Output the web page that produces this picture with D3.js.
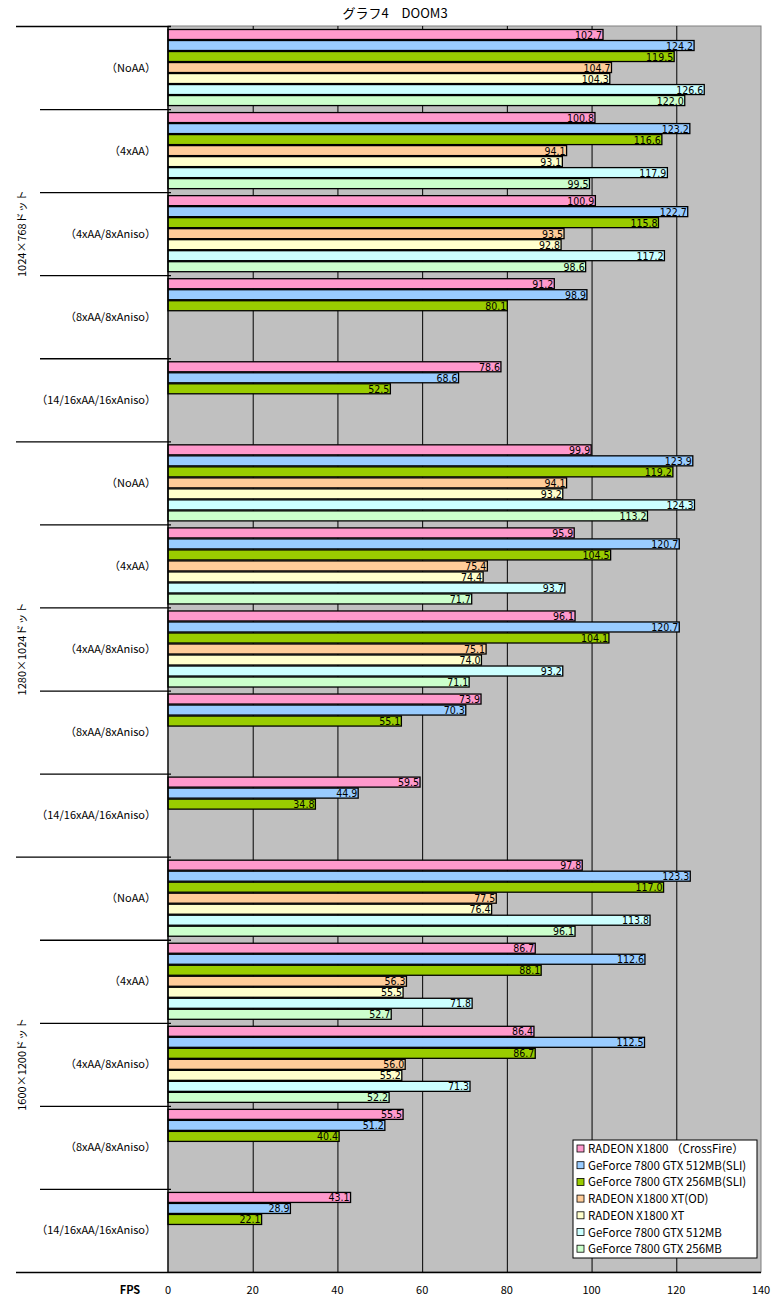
<!DOCTYPE html>
<html>
<head>
<meta charset="utf-8">
<script src="https://cdn.jsdelivr.net/npm/d3@7"></script>
<style>
  body { margin: 0; background: #fff; }
  svg text { font-family: "Noto Sans CJK JP", "DejaVu Sans", sans-serif; }
</style>
</head>
<body>
<svg id="chart" width="775" height="1304"></svg>
<script>
// series in legend order
var seriesNames = [
  'RADEON X1800 (CrossFire)',
  'GeForce 7800 GTX 512MB(SLI)',
  'GeForce 7800 GTX 256MB(SLI)',
  'RADEON X1800 XT(OD)',
  'RADEON X1800 XT',
  'GeForce 7800 GTX 512MB',
  'GeForce 7800 GTX 256MB'
]
var seriesColors = ['#ff99cc', '#99ccff', '#99cc00', '#ffcc99', '#ffffcc', '#ccffff', '#ccffcc']

var resolutions = ['1024×768ドット', '1280×1024ドット', '1600×1200ドット']
var settings = ['（NoAA）', '（4xAA）', '（4xAA/8xAniso）', '（8xAA/8xAniso）', '（14/16xAA/16xAniso）']

// one row per setting, values per series (null = no bar)
var res1024 = [
  [102.7, 124.2, 119.5, 104.7, 104.3, 126.6, 122.0],
  [100.8, 123.2, 116.6, 94.1, 93.1, 117.9, 99.5],
  [100.9, 122.7, 115.8, 93.5, 92.8, 117.2, 98.6],
  [91.2, 98.9, 80.1, null, null, null, null],
  [78.6, 68.6, 52.5, null, null, null, null]
]
var res1280 = [
  [99.9, 123.9, 119.2, 94.1, 93.2, 124.3, 113.2],
  [95.9, 120.7, 104.5, 75.4, 74.4, 93.7, 71.7],
  [96.1, 120.7, 104.1, 75.1, 74.0, 93.2, 71.1],
  [73.9, 70.3, 55.1, null, null, null, null],
  [59.5, 44.9, 34.8, null, null, null, null]
]
var res1600 = [
  [97.8, 123.3, 117.0, 77.5, 76.4, 113.8, 96.1],
  [86.7, 112.6, 88.1, 56.3, 55.5, 71.8, 52.7],
  [86.4, 112.5, 86.7, 56.0, 55.2, 71.3, 52.2],
  [55.5, 51.2, 40.4, null, null, null, null],
  [43.1, 28.9, 22.1, null, null, null, null]
]
var xTicks = [0, 20, 40, 60, 80, 100, 120, 140]

var plotLeft = 168, plotRight = 761, plotTop = 26, plotBottom = 1272

var svg = d3.select('#chart')

// build flat row list
var rows = []
;[res1024, res1280, res1600].forEach(function (res, ri) {
  res.forEach(function (vals, si) {
    rows.push({ id: ri + '-' + si, res: ri, setting: settings[si], values: vals })
  })
})

var x = d3.scaleLinear().domain([0, 140]).range([plotLeft, plotRight])
var yGroup = d3.scaleBand().domain(rows.map(function (r) { return r.id })).range([plotTop, plotBottom]).padding(0)
var step = yGroup.step()
var ySeries = d3.scaleBand().domain(seriesNames).range([3, step - 3]).padding(0)

// title
svg.append('text')
  .attr('x', 395).attr('y', 18)
  .attr('text-anchor', 'middle')
  .attr('font-size', 13)
  .text('グラフ4　DOOM3')

// plot background
svg.append('rect')
  .attr('x', plotLeft).attr('y', plotTop)
  .attr('width', plotRight - plotLeft).attr('height', plotBottom - plotTop)
  .attr('fill', '#c0c0c0')
  .attr('stroke', '#808080')
  .attr('stroke-width', 1)

// vertical grid lines
svg.append('g').selectAll('line')
  .data(xTicks.slice(1, -1))
  .enter().append('line')
  .attr('x1', function (d) { return x(d) + 0.5 }).attr('x2', function (d) { return x(d) + 0.5 })
  .attr('y1', plotTop).attr('y2', plotBottom)
  .attr('stroke', '#000').attr('stroke-width', 1)

// bars
var rowGroups = svg.append('g').selectAll('g')
  .data(rows)
  .enter().append('g')
  .attr('transform', function (r) { return 'translate(0,' + yGroup(r.id) + ')' })

rowGroups.each(function (r) {
  var barData = r.values.map(function (v, i) { return { v: v, name: seriesNames[i], color: seriesColors[i] } })
    .filter(function (d) { return d.v !== null })
  var g = d3.select(this)
  g.selectAll('rect')
    .data(barData)
    .enter().append('rect')
    .attr('x', x(0))
    .attr('y', function (d) { return ySeries(d.name) + 0.5 })
    .attr('width', function (d) { return x(d.v) - x(0) })
    .attr('height', ySeries.bandwidth() - 1)
    .attr('fill', function (d) { return d.color })
    .attr('stroke', '#000')
    .attr('stroke-width', 1.3)
  g.selectAll('text')
    .data(barData)
    .enter().append('text')
    .attr('x', function (d) { return x(d.v) - 1 })
    .attr('y', function (d) { return ySeries(d.name) + ySeries.bandwidth() / 2 + 4 })
    .attr('text-anchor', 'end')
    .attr('font-size', 10.5)
    .style('font-family', '"DejaVu Sans Condensed", "Liberation Sans Narrow", sans-serif')
    .attr('fill', '#000')
    .text(function (d) { return d.v.toFixed(1) })
})

// left axis line
svg.append('line')
  .attr('x1', plotLeft).attr('x2', plotLeft)
  .attr('y1', plotTop).attr('y2', plotBottom)
  .attr('stroke', '#000').attr('stroke-width', 1.3)

// bottom axis line
svg.append('line')
  .attr('x1', 16).attr('x2', plotRight)
  .attr('y1', plotBottom + 0.5).attr('y2', plotBottom + 0.5)
  .attr('stroke', '#000').attr('stroke-width', 1.3)

// category separators: long at resolution boundaries, short inside
var boundaries = rows.map(function (r, i) { return { y: yGroup(r.id), major: i % 5 === 0 } })
svg.append('g').selectAll('line')
  .data(boundaries)
  .enter().append('line')
  .attr('x1', function (d) { return d.major ? 16 : 40 })
  .attr('x2', plotLeft + 3)
  .attr('y1', function (d) { return d.y + 0.5 })
  .attr('y2', function (d) { return d.y + 0.5 })
  .attr('stroke', '#000').attr('stroke-width', 1.3)

// setting labels
svg.append('g').selectAll('text')
  .data(rows)
  .enter().append('text')
  .attr('x', 156)
  .attr('y', function (r) { return yGroup(r.id) + step / 2 + 4 })
  .attr('text-anchor', 'end')
  .attr('font-size', 11)
  .text(function (r) { return r.setting })

// resolution labels (rotated)
svg.append('g').selectAll('text')
  .data(resolutions)
  .enter().append('text')
  .attr('transform', function (d, i) {
    var cy = yGroup(rows[i * 5].id) + step * 2.5
    return 'translate(26,' + cy + ') rotate(-90)'
  })
  .attr('text-anchor', 'middle')
  .attr('font-size', 11)
  .text(function (d) { return d })

// x tick labels
svg.append('g').selectAll('text')
  .data(xTicks)
  .enter().append('text')
  .attr('x', function (d) { return x(d) })
  .attr('y', 1294)
  .attr('text-anchor', 'middle')
  .attr('font-size', 11)
  .text(function (d) { return d })

svg.append('text')
  .attr('x', 130).attr('y', 1294)
  .attr('text-anchor', 'middle')
  .attr('font-size', 11)
  .attr('font-weight', 'bold')
  .text('FPS')

// legend
var legend = svg.append('g').attr('transform', 'translate(573,1140)')
legend.append('rect')
  .attr('width', 184).attr('height', 118)
  .attr('fill', '#fff').attr('stroke', '#000').attr('stroke-width', 1)
var items = legend.selectAll('g')
  .data(seriesNames)
  .enter().append('g')
  .attr('transform', function (d, i) { return 'translate(4,' + (9 + i * 16.7) + ')' })
items.append('rect')
  .attr('x', 0).attr('y', -4)
  .attr('width', 7).attr('height', 7)
  .attr('fill', function (d, i) { return seriesColors[i] })
  .attr('stroke', '#000').attr('stroke-width', 0.8)
items.append('text')
  .attr('x', 11).attr('y', 4)
  .attr('font-size', 11.5)
  .text(function (d) { return d.replace(' (', ' （').replace('Fire)', 'Fire）') })
</script>
</body>
</html>
